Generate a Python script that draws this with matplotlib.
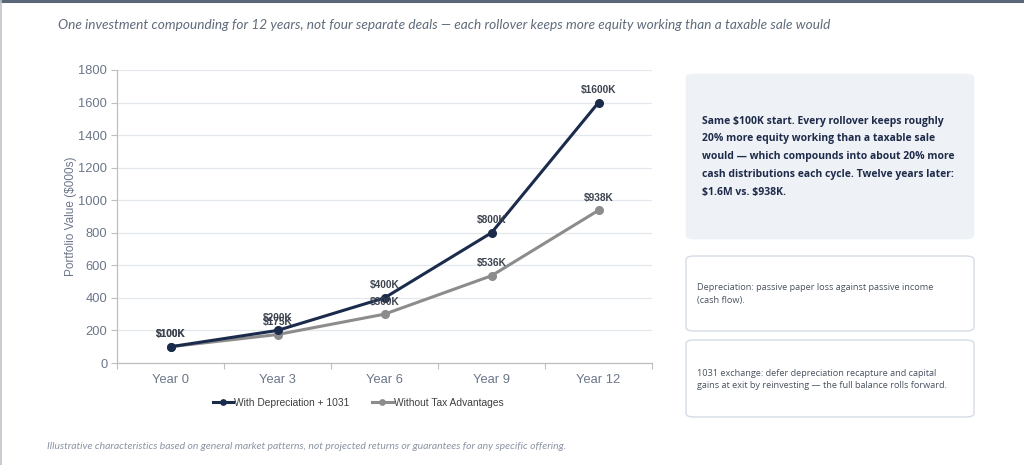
import matplotlib
matplotlib.use("Agg")
import matplotlib.pyplot as plt
from matplotlib.patches import FancyBboxPatch
from matplotlib.lines import Line2D

categories = ["Year 0", "Year 3", "Year 6", "Year 9", "Year 12"]
with_1031 = [100, 200, 400, 800, 1600]
without_tax = [100, 175, 300, 536, 938]
with_labels = ["$100K", "$200K", "$400K", "$800K", "$1600K"]
without_labels = ["$100K", "$175K", "$300K", "$536K", "$938K"]
yticks = [0, 200, 400, 600, 800, 1000, 1200, 1400, 1600, 1800]

W, H = 1024, 465
fig = plt.figure(figsize=(W / 100, H / 100), dpi=100)
fig.patch.set_facecolor("white")

def fx(x):
    return x / W

def fy(y):
    return 1 - y / H

NAVY = "#1b2b4b"
GREY = "#8c8c8c"
SLATE = "#6b7689"

# frame lines
fig.add_artist(Line2D([0, 1], [fy(1), fy(1)], color="#5b6678", lw=2.2, transform=fig.transFigure))
fig.add_artist(Line2D([fx(0.6), fx(0.6)], [0, 1], color="#bfc3c9", lw=1.2, transform=fig.transFigure))

# title
fig.text(fx(58), fy(25), "One investment compounding for 12 years, not four separate deals \u2014 each rollover keeps more equity working than a taxable sale would",
         fontsize=9.8, style="italic", color="#5f6b7a", family="Lato", va="center", ha="left")

# axes
ax = fig.add_axes([fx(117), fy(363), fx(652) - fx(117), fy(70) - fy(363)])
x = list(range(len(categories)))
ax.plot(x, with_1031, color=NAVY, lw=2.2, marker="o", ms=5.5, label="With Depreciation + 1031", zorder=3)
ax.plot(x, without_tax, color=GREY, lw=2.2, marker="o", ms=5.5, label="Without Tax Advantages", zorder=2)
for xi, v, t in zip(x, with_1031, with_labels):
    ax.annotate(t, (xi, v), xytext=(0, 5.5), textcoords="offset points", ha="center", va="bottom",
                fontsize=7.3, fontweight="bold", color="#3d4450", family="Liberation Sans")
for xi, v, t in zip(x, without_tax, without_labels):
    ax.annotate(t, (xi, v), xytext=(0, 5.5), textcoords="offset points", ha="center", va="bottom",
                fontsize=7.3, fontweight="bold", color="#3d4450", family="Liberation Sans")

ax.set_xlim(-0.5, len(categories) - 0.5)
ax.set_ylim(0, 1800)
ax.set_yticks(yticks)
ax.set_yticklabels([str(v) for v in yticks])
ax.set_xticks(x)
ax.set_xticklabels(categories)
ax.set_xticks([i + 0.5 for i in range(-1, len(categories))], minor=True)
ax.tick_params(axis="x", which="major", length=0, pad=8, labelsize=9.3, labelcolor=SLATE)
ax.tick_params(axis="x", which="minor", length=4, color="#bfbfbf", width=0.8)
ax.tick_params(axis="y", length=4, color="#bfbfbf", width=0.8, pad=3, labelsize=9.3, labelcolor=SLATE)
for lbl in ax.get_xticklabels() + ax.get_yticklabels():
    lbl.set_family("Liberation Sans")
ax.grid(axis="y", color="#e4e8ee", lw=0.9)
ax.set_axisbelow(True)
for s in ["top", "right"]:
    ax.spines[s].set_visible(False)
for s in ["left", "bottom"]:
    ax.spines[s].set_color("#bfbfbf")
    ax.spines[s].set_linewidth(0.9)
ax.set_ylabel("Portfolio Value ($000s)", fontsize=8.5, color=SLATE, family="Liberation Sans", labelpad=1)

leg = ax.legend(loc="center", bbox_to_anchor=(fx(358), fy(403)), bbox_transform=fig.transFigure,
                ncol=2, frameon=False, handlelength=2.0, columnspacing=2.2,
                handletextpad=0.1, markerscale=0.7, prop={"family": "Liberation Sans", "size": 7.4})
for t in leg.get_texts():
    t.set_color("#404040")

# footnote
fig.text(fx(47), fy(446), "Illustrative characteristics based on general market patterns, not projected returns or guarantees for any specific offering.",
         fontsize=7.5, style="italic", color="#8a94a3", family="Lato", va="center", ha="left")

# right panel boxes
def box(x0, y0, x1, y1, fc, ec, lw):
    p = FancyBboxPatch((fx(x0), fy(y1)), fx(x1) - fx(x0), fy(y0) - fy(y1),
                       boxstyle="round,pad=0,rounding_size=0.008", transform=fig.transFigure,
                       facecolor=fc, edgecolor=ec, linewidth=lw)
    fig.add_artist(p)

box(686, 74, 974, 239, "#eef1f6", "#eef1f6", 0.5)
box(686, 256, 974, 331, "white", "#d5dbe5", 1.0)
box(686, 340, 974, 417, "white", "#d5dbe5", 1.0)

main_lines = ["Same \\$100K start. Every rollover keeps roughly",
              "20% more equity working than a taxable sale",
              "would \u2014 which compounds into about 20% more",
              "cash distributions each cycle. Twelve years later:",
              "\\$1.6M vs. \\$938K."]
for i, ln in enumerate(main_lines):
    fig.text(fx(702), fy(121 + 18 * i), ln, fontsize=7.5, fontweight="bold", color="#1e2b4a",
             family="Open Sans", va="center", ha="left")

for i, ln in enumerate(["Depreciation: passive paper loss against passive income", "(cash flow)."]):
    fig.text(fx(697), fy(287 + 13 * i), ln, fontsize=6.6, color="#4a5260", family="Open Sans", va="center", ha="left")
for i, ln in enumerate(["1031 exchange: defer depreciation recapture and capital",
                        "gains at exit by reinvesting \u2014 the full balance rolls forward."]):
    fig.text(fx(697), fy(373 + 13 * i), ln, fontsize=6.6, color="#4a5260", family="Open Sans", va="center", ha="left")

fig.savefig("out.png", dpi=100, facecolor="white")
